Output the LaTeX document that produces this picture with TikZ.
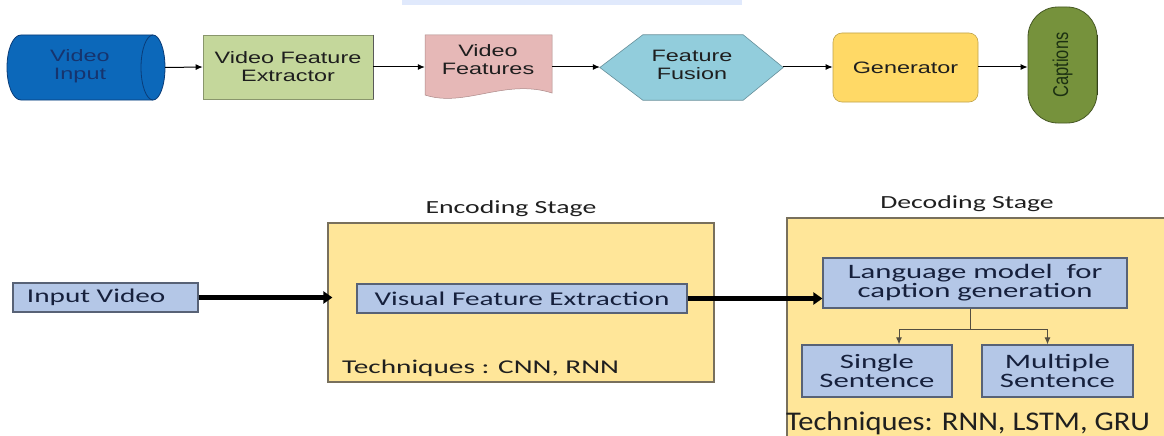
\documentclass[tikz,border=0pt]{standalone}
\usepackage{fontspec}
\setmainfont{Liberation Sans}
\newfontfamily\arialw[FakeStretch=1.42]{Liberation Sans}
\newfontfamily\arialn{Liberation Sans}
\newfontfamily\calw[FakeStretch=1.5]{Carlito}
\newfontfamily\calm[FakeStretch=1.13]{Carlito}
\usetikzlibrary{arrows.meta}

\definecolor{cylblue}{RGB}{12,104,186}
\definecolor{cyledge}{RGB}{10,60,120}
\definecolor{cylink}{RGB}{22,52,110}
\definecolor{vfegreen}{RGB}{196,215,155}
\definecolor{docpink}{RGB}{230,184,183}
\definecolor{fuscyan}{RGB}{146,205,220}
\definecolor{genyellow}{RGB}{255,217,102}
\definecolor{capolive}{RGB}{118,146,60}
\definecolor{capink}{RGB}{28,48,18}
\definecolor{topink}{RGB}{30,30,30}
\definecolor{boxblue}{RGB}{180,199,231}
\definecolor{boxedge}{RGB}{88,98,118}
\definecolor{stagefill}{RGB}{255,230,153}
\definecolor{stageedge}{RGB}{120,112,92}
\definecolor{botink}{RGB}{22,32,60}
\definecolor{bandblue}{RGB}{224,233,252}

\begin{document}
\begin{tikzpicture}[x=1pt,y=-1pt,
  toptext/.style={font=\arialw\fontsize{16.5}{18}\selectfont, text=topink, align=center, inner sep=0pt},
  area/.style={inner sep=0pt, minimum width=#1},
  flow/.style={line width=1pt, -{Latex[length=7pt,width=6pt]}},
  bluebox/.style={fill=boxblue, draw=boxedge, line width=1.2pt, inner sep=0pt,
    font=\calw\fontsize{19.5}{18}\selectfont, text=botink, align=center},
  stagebox/.style={fill=stagefill, draw=stageedge, line width=1.2pt, inner sep=0pt},
  stagetitle/.style={font=\calw\fontsize{18.5}{20}\selectfont, text=black!88, inner sep=0pt, anchor=base},
  thickflow/.style={line width=5.5pt, -{Triangle[length=9pt,width=12pt]}},
  branch/.style={line width=1pt, draw=stageedge!70!black}]

\useasboundingbox (0,0) rectangle (1164,436);
\clip (0,0) rectangle (1164,436);
\fill[white] (0,0) rectangle (1164,436);

% faint band at the top edge
\fill[bandblue] (402,0) rectangle (742,5);

% ---------------- top pipeline ----------------
% video input drum
\node[area=157, minimum height=65pt] (vin) at (86.5,67.5) {};
\fill[cylblue, draw=cyledge, line width=0.8pt]
  (21,35) -- (153,35)
  .. controls (159.6,35) and (165,49.55) .. (165,67.5)
  .. controls (165,85.45) and (159.6,100) .. (153,100)
  -- (21,100)
  .. controls (13,100) and (7,85.45) .. (7,67.5)
  .. controls (7,49.55) and (13,35) .. (21,35) -- cycle;
\draw[cyledge, line width=0.8pt]
  (153,35) .. controls (146.4,35) and (141,49.55) .. (141,67.5)
  .. controls (141,85.45) and (146.4,100) .. (153,100);
\node[toptext, text=cylink] (vinlbl) at (80,66) {Video\\Input};

% feature extractor
\node[toptext, fill=vfegreen, draw=vfegreen!70!black, line width=0.6pt,
      minimum width=170pt, minimum height=64pt] (vfe) at (288,67) {Video Feature\\Extractor};
\draw[black!65, line width=1.2pt] (vfe.north east) -- (vfe.south east);

% video features (document shape)
\node[area=127, minimum height=65pt] (vfeat) at (488.5,67.5) {};
\fill[docpink, draw=docpink!75!black, line width=0.5pt]
  (425,35) -- (552,35) -- (552,93)
  .. controls (505,78) and (465,108) .. (425,95) -- cycle;
\node[toptext] (vfeatlbl) at (488,60) {Video\\Features};

% feature fusion hexagon
\node[area=183, minimum height=65pt] (ffus) at (691.5,67.5) {};
\fill[fuscyan, draw=fuscyan!70!black, line width=0.6pt]
  (ffus.west) -- ([xshift=43pt]ffus.north west) -- ([xshift=-40pt]ffus.north east)
  -- (ffus.east) -- ([xshift=-40pt]ffus.south east) -- ([xshift=43pt]ffus.south west) -- cycle;
\node[toptext] (ffuslbl) at (692,65) {Feature\\Fusion};

% generator
\node[toptext, fill=genyellow, draw=genyellow!75!black, line width=0.6pt, rounded corners=9pt,
      minimum width=145pt, minimum height=69pt] (gen) at (905.5,67.5) {Generator};

% captions terminal
\node[fill=capolive, draw=capolive!60!black, line width=0.8pt, rounded corners=30pt,
      minimum width=69pt, minimum height=116pt, inner sep=0pt,
      font=\arialn\fontsize{16.5}{18}\selectfont, text=capink] (cap) at (1062.5,65)
      {\rotatebox{90}{\scalebox{1}[1.3]{Captions}}};
\draw[capolive!45!black, line width=1.2pt] ([yshift=-28pt]cap.north east) -- ([yshift=28pt]cap.south east);

\draw[flow] (vin.east) -- (vfe.west);
\draw[flow] (vfe.east) -- (vfe.east -| vfeat.west);
\draw[flow] (vfeat.east |- vfe.east) -- (vfe.east -| ffus.west);
\draw[flow] (ffus.east |- vfe.east) -- (vfe.east -| gen.west);
\draw[flow] (gen.east |- vfe.east) -- (vfe.east -| cap.west);

% ---------------- bottom: encoder / decoder ----------------
\node[stagebox, minimum width=386pt, minimum height=159pt] (enc) at (521,302.5) {};
\node[stagetitle] (enclbl) at (511,213) {Encoding Stage};
\node[stagebox, minimum width=393pt, minimum height=232pt] (dec) at (983.5,334) {};
\node[stagetitle] (declbl) at (967,208) {Decoding Stage};

\node[bluebox, text width=157pt, inner xsep=14pt, align=left, minimum height=29pt] (inv) at (105.5,297.5) {Input Video};
\node[bluebox, minimum width=330pt, minimum height=29pt] (vfx) at (522,298.5) {Visual Feature Extraction};
\node[font=\calw\fontsize{19.5}{20}\selectfont, text=black!88, inner sep=0pt, anchor=base west] (enctech) at (342,373) {Techniques : CNN, RNN};

\node[bluebox, font=\calw\fontsize{20.5}{19}\selectfont, minimum width=304pt, minimum height=50pt] (lm) at (975,283)
  {Language model\ \ for\\caption generation};
\node[bluebox, font=\calw\fontsize{20.5}{18.5}\selectfont, minimum width=150pt, minimum height=52pt] (ss) at (877,371) {Single\\Sentence};
\node[bluebox, font=\calw\fontsize{20.5}{18.5}\selectfont, minimum width=151pt, minimum height=52pt] (ms) at (1057.5,371) {Multiple\\Sentence};
\node[font=\calm\fontsize{27}{30}\selectfont, text=black!88, inner sep=0pt, anchor=base west] (dectech) at (786,430) {Techniques: RNN, LSTM, GRU};

\draw[thickflow, shorten >=-5pt] (inv.east) -- (inv.east -| enc.west);
\draw[thickflow] (vfx.east) -- (vfx.east -| lm.west);

\draw[branch] ([xshift=-5pt]lm.south) -- ++(0,-21pt) coordinate (jn);
\draw[branch, -{Latex[length=7pt,width=6pt]}] (jn) -| ([xshift=22pt]ss.north);
\draw[branch, -{Latex[length=7pt,width=6pt]}] (jn) -| ([xshift=-10pt]ms.north);

\end{tikzpicture}
\end{document}
